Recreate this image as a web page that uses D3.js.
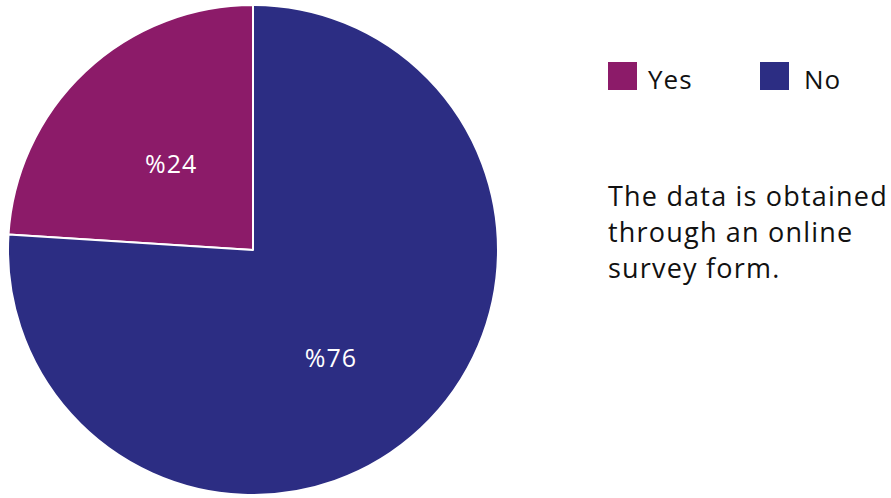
<!DOCTYPE html>
<html>
<head>
<meta charset="utf-8">
<script src="https://cdn.jsdelivr.net/npm/d3@7"></script>
<style>
  html, body { margin: 0; padding: 0; background: #ffffff; }
  svg { display: block; }
  text { font-family: "Open Sans", "Lato", sans-serif; }
</style>
</head>
<body>
<svg id="chart" width="891" height="498"></svg>
<script>
// Survey answers
const categories = ["Yes", "No"];
const values = [24, 76];
const sliceLabels = ["%24", "%76"];
const colors = ["#8c1b69", "#2c2d83"];
const noteLines = ["The data is obtained", "through an online", "survey form."];

const svg = d3.select("#chart");
const cx = 253, cy = 250, radius = 245;
// small per-slice nudges for the percentage labels
const labelNudge = [[2, 2], [-6, 18]];

const total = d3.sum(values);
const pie = d3.pie()
  .sort(null)
  .value(d => d)
  .startAngle(-2 * Math.PI * values[0] / total)
  .endAngle(2 * Math.PI - 2 * Math.PI * values[0] / total);

const arc = d3.arc().innerRadius(0).outerRadius(radius);
const labelArc = d3.arc().innerRadius(radius * 0.5).outerRadius(radius * 0.5);

const g = svg.append("g").attr("transform", `translate(${cx},${cy})`);
const arcs = pie(values);

g.selectAll("path.slice")
  .data(arcs)
  .join("path")
  .attr("class", "slice")
  .attr("d", arc)
  .attr("fill", (d, i) => colors[i])
  .attr("stroke", "#ffffff")
  .attr("stroke-width", 2)
  .attr("stroke-linejoin", "round");

g.selectAll("text.pct")
  .data(arcs)
  .join("text")
  .attr("class", "pct")
  .attr("transform", (d, i) => {
    const [x, y] = labelArc.centroid(d);
    return `translate(${x + labelNudge[i][0]},${y + labelNudge[i][1]})`;
  })
  .attr("text-anchor", "middle")
  .attr("dominant-baseline", "central")
  .attr("fill", "#ffffff")
  .attr("font-size", 25)
  .attr("letter-spacing", 1)
  .text((d, i) => sliceLabels[i]);

// Legend
const legend = svg.append("g").attr("transform", "translate(608,62)");
const item = legend.selectAll("g.item")
  .data(categories)
  .join("g")
  .attr("class", "item")
  .attr("transform", (d, i) => `translate(${i * 152},0)`);
item.append("rect")
  .attr("width", 29).attr("height", 28)
  .attr("fill", (d, i) => colors[i]);
item.append("text")
  .attr("x", (d, i) => i === 0 ? 40 : 44)
  .attr("y", 27)
  .attr("font-size", 26)
  .attr("letter-spacing", 1)
  .attr("fill", "#111111")
  .text(d => d);

// Note
svg.append("text")
  .attr("x", 608)
  .attr("y", 206)
  .attr("font-size", 27)
  .attr("letter-spacing", 1.2)
  .attr("fill", "#111111")
  .selectAll("tspan")
  .data(noteLines)
  .join("tspan")
  .attr("x", 608)
  .attr("dy", (d, i) => i === 0 ? 0 : 36)
  .text(d => d);
</script>
</body>
</html>
